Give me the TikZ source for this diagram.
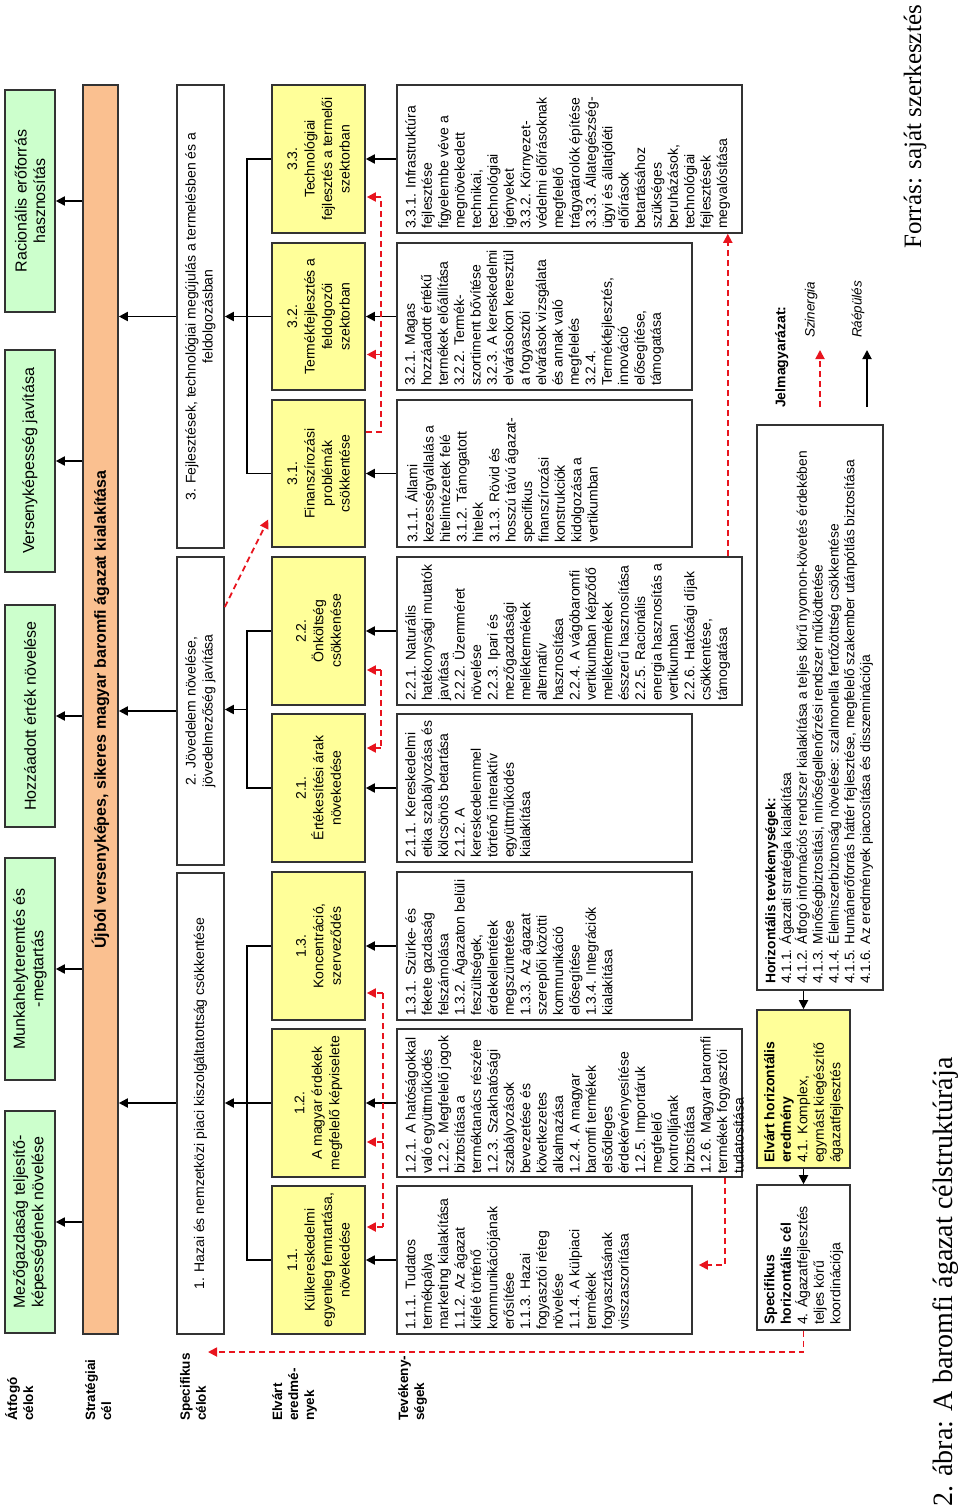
\documentclass[tikz,border=0pt]{standalone}
\usepackage{fontspec}
\setmainfont{Liberation Sans}
\newfontfamily\serifcap{Liberation Serif}
\usetikzlibrary{arrows.meta,calc}
\definecolor{gfill}{HTML}{CCFFCC}
\definecolor{yfill}{HTML}{FFFF99}
\definecolor{ofill}{HTML}{FAC090}
\definecolor{bord}{HTML}{333333}
\definecolor{synred}{HTML}{E8141E}
\newcommand{\pbox}[7]{\node[#1, rotate=90, minimum width={(#6-#5)*1pt}, minimum height={(#4-#3)*1pt}] (#2) at ({(#3+#4)/2},{-(#5+#6)/2}) {#7};}
\tikzset{
  basebox/.style={draw=bord, line width=1.6pt, inner sep=0pt, align=center},
  greenbox/.style={basebox, fill=gfill, font=\fontsize{16}{18.5}\selectfont},
  orangebox/.style={basebox, fill=ofill, font=\bfseries\fontsize{16}{19}\selectfont},
  specbox/.style={basebox, fill=white, font=\fontsize{14}{17}\selectfont},
  yelbox/.style={basebox, fill=yfill, font=\fontsize{14}{17.5}\selectfont},
  actbox/.style={basebox, fill=white},
  acttext/.style={rotate=90, anchor=north west, inner sep=0pt, align=left, font=\fontsize{14}{16.4}\selectfont},
  htext/.style={rotate=90, anchor=north west, inner sep=0pt, align=left, font=\fontsize{13.8}{15.8}\selectfont},
  rowlab/.style={rotate=90, anchor=north west, inner sep=0pt, align=left, font=\bfseries\fontsize{13.5}{16}\selectfont},
  arr/.style={line width=1.8pt, -{Triangle[length=9pt,width=9pt]}},
  lin/.style={line width=1.8pt},
  syn/.style={line width=1.8pt, synred, dash pattern=on 6pt off 4pt},
  synarr/.style={syn, -{Triangle[length=9pt,width=9pt]}},
}
\begin{document}
\begin{tikzpicture}[x=1pt,y=1pt]
\useasboundingbox[fill=white] (0,0) rectangle (960,-1510);
% row labels
\node[rowlab] (lab1) at (5,-1421) {Átfogó\\célok};
\node[rowlab] (lab2) at (85,-1421) {Stratégiai\\cél};
\node[rowlab] (lab3) at (180,-1421) {Specifikus\\célok};
\node[rowlab] (lab4) at (272,-1421) {Elvárt\\eredmé-\\nyek};
\node[rowlab] (lab5) at (398,-1421) {Tevékeny-\\ségek};
% green
\pbox{greenbox}{g1}{5}{55}{1111}{1333}{Mezőgazdaság teljesítő-\\képességének növelése}
\pbox{greenbox}{g2}{5}{55}{858}{1080}{Munkahelyteremtés és\\-megtartás}
\pbox{greenbox}{g3}{5}{55}{605}{827}{Hozzáadott érték növelése}
\pbox{greenbox}{g4}{5}{55}{350}{572}{Versenyképesség javítása}
\pbox{greenbox}{g5}{5}{55}{90}{312}{Racionális erőforrás\\hasznosítás}
% orange
\pbox{orangebox}{o}{83}{118}{85}{1334}{Újból versenyképes, sikeres magyar baromfi ágazat kialakítása}
% specific
\pbox{specbox}{s1}{177}{224}{873}{1334}{1. Hazai és nemzetközi piaci kiszolgáltatottság csökkentése}
\pbox{specbox}{s2}{177}{224}{557}{865}{2. Jövedelem növelése,\\jövedelmezőség javítása}
\pbox{specbox}{s3}{177}{224}{85}{548}{3. Fejlesztések, technológiai megújulás a termelésben és a\\feldolgozásban}
% yellow
\pbox{yelbox}{y11}{272}{365}{1186}{1334}{1.1.\\Külkereskedelmi\\egyenleg fenntartása,\\növekedése}
\pbox{yelbox}{y12}{272}{365}{1029}{1177}{1.2.\\A magyar érdekek\\megfelelő képviselete}
\pbox{yelbox}{y13}{272}{365}{872}{1020}{1.3.\\Koncentráció,\\szerveződés}
\pbox{yelbox}{y21}{272}{365}{714}{862}{2.1.\\Értékesítési árak\\növekedése}
\pbox{yelbox}{y22}{272}{365}{557}{705}{2.2.\\Önköltség\\csökkenése}
\pbox{yelbox}{y31}{272}{365}{400}{547}{3.1.\\Finanszírozási\\problémák\\csökkentése}
\pbox{yelbox}{y32}{272}{365}{243}{390}{3.2.\\Termékfejlesztés a\\feldolgozói\\szektorban}
\pbox{yelbox}{y33}{272}{365}{85}{233}{3.3.\\Technológiai\\fejlesztés a termelői\\szektorban}
% activity boxes
\pbox{actbox}{a11}{397}{692}{1186}{1334}{}
\pbox{actbox}{a12}{397}{742}{1029}{1177}{}
\pbox{actbox}{a13}{397}{692}{872}{1020}{}
\pbox{actbox}{a21}{397}{692}{714}{862}{}
\pbox{actbox}{a22}{397}{742}{557}{705}{}
\pbox{actbox}{a31}{397}{692}{400}{547}{}
\pbox{actbox}{a32}{397}{692}{243}{390}{}
\pbox{actbox}{a33}{397}{742}{85}{233}{}
\node[acttext] (t11) at (405,-1330) {1.1.1. Tudatos\\termékpálya\\marketing kialakítása\\1.1.2. Az ágazat\\kifelé történő\\kommunikációjának\\erősítése\\1.1.3. Hazai\\fogyasztói réteg\\növelése\\1.1.4. A külpiaci\\termékek\\fogyasztásának\\visszaszorítása};
\node[acttext] (t12) at (405,-1174) {1.2.1. A hatóságokkal\\való együttműködés\\1.2.2. Megfelelő jogok\\biztosítása a\\terméktanács részére\\1.2.3. Szakhatósági\\szabályozások\\bevezetése és\\következetes\\alkalmazása\\1.2.4. A magyar\\baromfi termékek\\elsődleges\\érdekérvényesítése\\1.2.5. Importáruk\\megfelelő\\kontrolljának\\biztosítása\\1.2.6. Magyar baromfi\\termékek fogyasztói\\tudatosítása};
\node[acttext] (t13) at (405,-1016) {1.3.1. Szürke- és\\fekete gazdaság\\felszámolása\\1.3.2. Ágazaton belüli\\feszültségek,\\érdekellentétek\\megszüntetése\\1.3.3. Az ágazat\\szereplői közötti\\kommunikáció\\elősegítése\\1.3.4. Integrációk\\kialakítása};
\node[acttext] (t21) at (405,-858) {2.1.1. Kereskedelmi\\etika szabályozása és\\kölcsönös betartása\\2.1.2. A\\kereskedelemmel\\történő interaktív\\együttműködés\\kialakítása};
\node[acttext] (t22) at (405,-701) {2.2.1. Naturális\\hatékonysági mutatók\\javítása\\2.2.2. Üzemméret\\növelése\\2.2.3. Ipari és\\mezőgazdasági\\melléktermékek\\alternatív\\hasznosítása\\2.2.4. A vágóbaromfi\\vertikumban képződő\\melléktermékek\\ésszerű hasznosítása\\2.2.5. Racionális\\energia hasznosítás a\\vertikumban\\2.2.6. Hatósági díjak\\csökkentése,\\támogatása};
\node[acttext] (t31) at (405,-543) {3.1.1. Állami\\kezességvállalás a\\hitelintézetek felé\\3.1.2. Támogatott\\hitelek\\3.1.3. Rövid és\\hosszú távú ágazat-\\specifikus\\finanszírozási\\konstrukciók\\kidolgozása a\\vertikumban};
\node[acttext] (t32) at (405,-386) {3.2.1. Magas\\hozzáadott értékű\\termékek előállítása\\3.2.2. Termék-\\szortiment bővítése\\3.2.3. A kereskedelmi\\elvárásokon keresztül\\a fogyasztói\\elvárások vizsgálata\\és annak való\\megfelelés\\3.2.4.\\Termékfejlesztés,\\innováció\\elősegítése,\\támogatása};
\node[acttext] (t33) at (405,-229) {3.3.1. Infrastruktúra\\fejlesztése\\figyelembe véve a\\megnövekedett\\technikai,\\technológiai\\igényeket\\3.3.2. Környezet-\\védelmi előírásoknak\\megfelelő\\trágyatárolók építése\\3.3.3. Állategészség-\\ügyi és állatjóléti\\előírások\\betartásához\\szükséges\\beruházások,\\technológiai\\fejlesztések\\megvalósítása};
% horizontal
\pbox{actbox}{h}{757}{883}{425}{990}{}
\pbox{actbox,fill=yfill}{he}{757}{850}{1010}{1168}{}
\pbox{actbox}{hs}{757}{850}{1185}{1330}{}
\node[htext] (ht) at (765,-984) {\textbf{Horizontális tevékenységek:}\\4.1.1. Ágazati stratégia kialakítása\\4.1.2. Átfogó információs rendszer kialakítása a teljes körű nyomon-követés érdekében\\4.1.3. Minőségbiztosítási, minőségellenőrzési rendszer működtetése\\4.1.4. Élelmiszerbiztonság növelése: szalmonella fertőzöttség csökkentése\\4.1.5. Humánerőforrás háttér fejlesztése, megfelelő szakember utánpótlás biztosítása\\4.1.6. Az eredmények piacosítása és disszeminációja};
\node[htext,font=\fontsize{14}{16.5}\selectfont] (het) at (764,-1163) {\textbf{Elvárt horizontális}\\\textbf{eredmény}\\4.1. Komplex,\\egymást kiegészítő\\ágazatfejlesztés};
\node[htext,font=\fontsize{14}{16.5}\selectfont] (hst) at (764,-1325) {\textbf{Specifikus}\\\textbf{horizontális cél}\\4. Ágazatfejlesztés\\teljes körű\\koordinációja};
% arrows orange -> green
\foreach \g in {g1,g2,g3,g4,g5} \draw[arr] (o.north |- \g.center) -- (\g.south);
% spec -> orange
\draw[arr] (s1.north |- y12.center) -- (o.south |- y12.center);
\draw[arr] (s2.north) -- (o.south |- s2.north);
\draw[arr] (s3.north |- y32.center) -- (o.south |- y32.center);
% yellow trunks
\draw[lin] (y11.north) -| ($(y13.north)+(-24,0)$) -- (y13.north);
\draw[arr] (y12.north) -- (s1.south |- y12.north);
\draw[lin] (y21.north) -| ($(y22.north)+(-24,0)$) -- (y22.north);
\coordinate (m2) at ($(y21.north)!0.5!(y22.north)+(-24,0)$);
\draw[arr] (m2) -- (s2.south |- m2);
\draw[lin] (y31.north) -| ($(y33.north)+(-24,0)$) -- (y33.north);
\draw[arr] (y32.north) -- (s3.south |- y32.north);
% activity -> yellow
\foreach \k in {11,12,13,21,22,31,32,33} \draw[arr] (a\k.north) -- (y\k.south);
% horizontal arrows
\draw[arr] (he.east |- h.west) -- (he.east);
\draw[arr] (he.west) -- (hs.east);
% synergy
\coordinate (r1end) at (208,-1352);
\draw[synarr] (hs.west) |- (r1end);
\draw[synarr] ($(a12.south west)+(-18,0)$) |- ($(a11.south)+(6,-5)$);
% group1
\draw[syn] ($(y13.south)+(17,-47)$) -- ($(y11.south)+(17,33)$);
\draw[synarr] ($(y13.south)+(17,-47)$) -- ($(y13.south)+(1,-47)$);
\draw[synarr] ($(y12.south)+(17,-39)$) -- ($(y12.south)+(1,-39)$);
\draw[synarr] ($(y11.south)+(17,33)$) -- ($(y11.south)+(1,33)$);
% group2
\draw[syn] ($(y22.south)+(15,-39)$) -- ($(y21.south)+(15,40)$);
\draw[synarr] ($(y22.south)+(15,-39)$) -- ($(y22.south)+(1,-39)$);
\draw[synarr] ($(y21.south)+(15,40)$) -- ($(y21.south)+(1,40)$);
% group3
\draw[syn] (y31.south |- 0,-432) -- ++(15,0) -- ($(y33.south)+(15,-38)$);
\draw[synarr] ($(y33.south)+(15,-38)$) -- ($(y33.south)+(1,-38)$);
\draw[synarr] ($(y32.south)+(15,-38)$) -- ($(y32.south)+(1,-38)$);
% diagonal
\draw[synarr] ($(s2.south)+(0,104)$) -- ($(y31.north)+(-3,-46)$);
% up arrow
\draw[synarr] ($(a22.south east)+(-15,0)$) -- ($(a33.south west)+(-15,0)$);
% legend
\node[rowlab,font=\bfseries\fontsize{14}{16}\selectfont] (leg) at (775,-408) {Jelmagyarázat:};
\coordinate (l1a) at (820,-407); \coordinate (l1b) at (820,-350);
\draw[synarr] (l1a) -- (l1b);
\node[rotate=90, anchor=west, inner sep=0pt, font=\itshape\fontsize{13.5}{15}\selectfont] (l1t) at (811,-338) {Szinergia};
\coordinate (l2a) at (867,-407); \coordinate (l2b) at (867,-350);
\draw[arr] (l2a) -- (l2b);
\node[rotate=90, anchor=west, inner sep=0pt, font=\itshape\fontsize{13.5}{15}\selectfont] (l2t) at (858,-338) {Ráépülés};
% captions
\node[rotate=90, anchor=west, inner sep=0pt, font=\serifcap\fontsize{25}{28}\selectfont] (forras) at (915,-249) {Forrás: saját szerkesztés};
\node[rotate=90, anchor=west, inner sep=0pt, font=\serifcap\fontsize{28}{30}\selectfont] (cap) at (946,-1507) {2. ábra: A baromfi ágazat célstruktúrája};
\end{tikzpicture}
\end{document}
